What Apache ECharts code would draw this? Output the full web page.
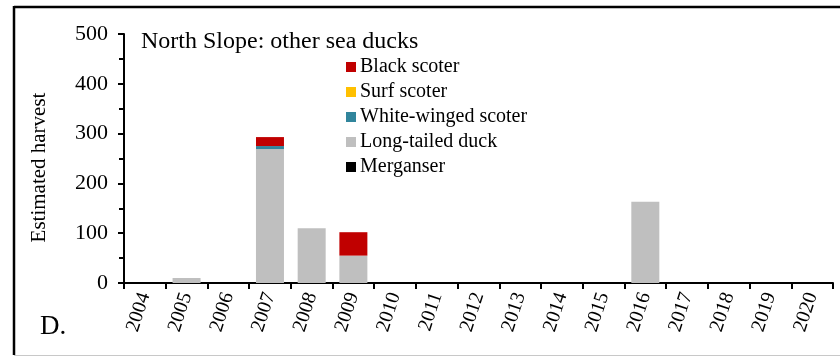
<!DOCTYPE html>
<html>
<head>
<meta charset="utf-8">
<script src="https://cdn.jsdelivr.net/npm/echarts@6/dist/echarts.min.js"></script>
<style>html,body{margin:0;padding:0;background:#fff}#c{width:840px;height:357px}</style>
</head>
<body>
<div id="c"></div>
<script>
const years = ['2004','2005','2006','2007','2008','2009','2010','2011','2012','2013','2014','2015','2016','2017','2018','2019','2020'];
const blackScoter   = [0,0,0,18,0,47,0,0,0,0,0,0,0,0,0,0,0];
const surfScoter    = [0,0,0,0,0,0,0,0,0,0,0,0,0,0,0,0,0];
const whiteWinged   = [0,0,0,6,0,0,0,0,0,0,0,0,0,0,0,0,0];
const longTailed    = [0,10,0,269,110,55,0,0,0,0,0,0,163,0,0,0,0];
const merganser     = [0,0,0,0,0,0,0,0,0,0,0,0,0,0,0,0,0];
const yTicks = [0,100,200,300,400,500];

const FONT = 'Liberation Serif';
const chart = echarts.init(document.getElementById('c'));
function bar(name, data, color){
  return {name, type:'bar', stack:'s', data, barWidth:28,
    itemStyle:{color}, emphasis:{disabled:true}};
}
chart.setOption({
  animation:false,
  backgroundColor:'#fff',
  textStyle:{fontFamily:FONT},
  title:{text:'North Slope: other sea ducks', left:136, top:25,
    textStyle:{fontFamily:FONT, fontSize:24, fontWeight:'normal', color:'#000'}},
  legend:{orient:'vertical', left:341, top:52, itemWidth:10, itemHeight:10, itemGap:5,
    icon:'rect', selectedMode:false,
    data:['Black scoter','Surf scoter','White-winged scoter','Long-tailed duck','Merganser'],
    textStyle:{fontFamily:FONT, fontSize:20, color:'#000', padding:[0,0,0,-1]}},
  grid:{left:124, right:7, top:34, bottom:74},
  xAxis:{type:'category', data:years,
    axisLine:{lineStyle:{color:'#000', width:2}},
    axisTick:{show:true, length:6, lineStyle:{color:'#000', width:2}},
    axisLabel:{rotate:72, fontFamily:FONT, fontSize:20, color:'#000', margin:10, interval:0}},
  yAxis:{type:'value', min:0, max:500, interval:100,
    name:'Estimated harvest', nameLocation:'middle', nameGap:74,
    nameTextStyle:{fontFamily:FONT, fontSize:21, color:'#000', padding:[0,0,0,-18]},
    axisLine:{show:true, lineStyle:{color:'#000', width:2}},
    axisTick:{show:true, length:6, lineStyle:{color:'#000', width:2}},
    minorTick:{show:true, splitNumber:2, length:5, lineStyle:{color:'#000', width:2}},
    splitLine:{show:false},
    axisLabel:{fontFamily:FONT, fontSize:22, color:'#000', margin:16,
      formatter:v=> yTicks.includes(v)? String(v):''}},
  graphic:[
    {type:'line', shape:{x1:14,y1:7,x2:840,y2:7}, style:{stroke:'#000', lineWidth:2.5}},
    {type:'line', shape:{x1:14,y1:6,x2:14,y2:355}, style:{stroke:'#000', lineWidth:2.5}},
    {type:'line', shape:{x1:14,y1:355.5,x2:840,y2:355.5}, style:{stroke:'#c8c8c8', lineWidth:1}},
    {type:'text', left:40, top:313, style:{text:'D.', font:'27px "Liberation Serif"', fill:'#000'}}
  ],
  series:[
    bar('Long-tailed duck', longTailed, '#BFBFBF'),
    bar('White-winged scoter', whiteWinged, '#31859C'),
    bar('Surf scoter', surfScoter, '#FFC000'),
    bar('Black scoter', blackScoter, '#C00000'),
    bar('Merganser', merganser, '#000000')
  ]
});
</script>
</body>
</html>
